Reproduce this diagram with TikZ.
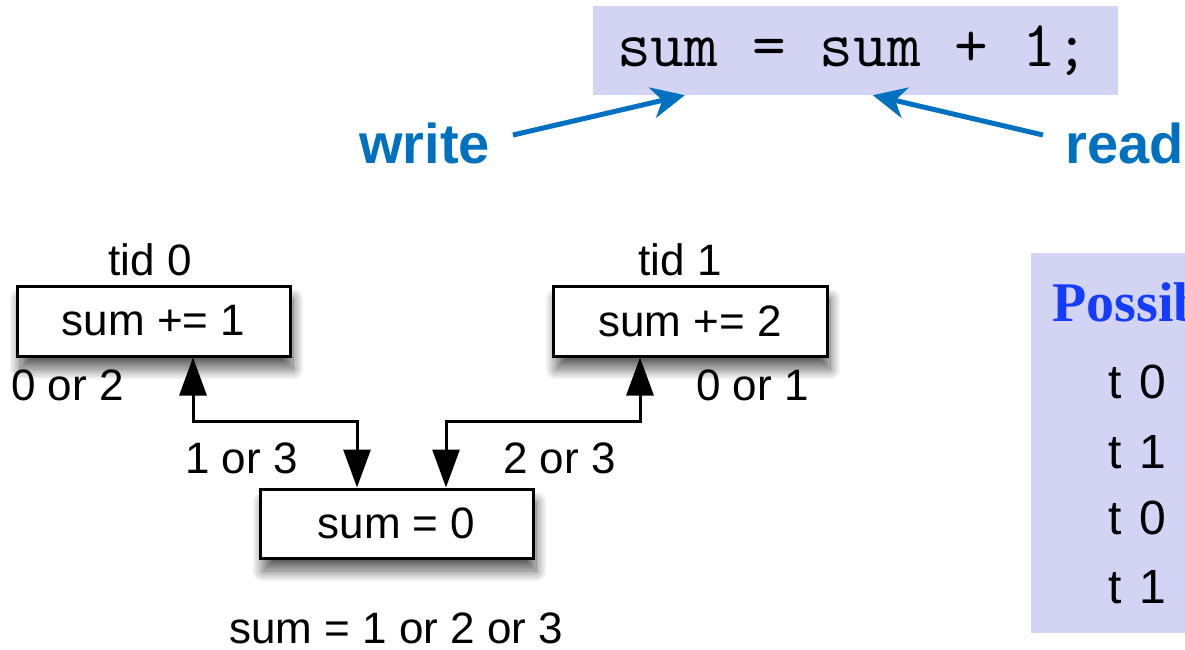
\documentclass[tikz,border=0pt]{standalone}
\usepackage{fontspec}
\setmainfont{Liberation Sans}
\newfontfamily\serifbold{Liberation Serif}[BoldFont=* Bold]
\usetikzlibrary{arrows.meta,shadows.blur}
\definecolor{lav}{RGB}{211,211,243}
\definecolor{rwblue}{RGB}{0,112,192}
\definecolor{possblue}{RGB}{20,60,255}
\newcommand{\mcell}[1]{\makebox[38pt][c]{#1}}
\tikzset{
  lavbox/.style={fill=lav, draw=none, inner sep=0pt},
  tbox/.style={draw=black, line width=3pt, fill=white, inner sep=0pt,
    font=\fontsize{44}{48}\selectfont,
    blur shadow={shadow xshift=3pt, shadow yshift=-13pt, shadow blur radius=11pt, shadow blur steps=25, shadow opacity=65}},
  lbl/.style={inner sep=0pt, font=\fontsize{44}{48}\selectfont},
  rwlbl/.style={inner sep=0pt, text=rwblue, font=\fontsize{56}{60}\selectfont\bfseries},
  rwarrow/.style={draw=rwblue, line width=5pt, -{Stealth[length=33pt, width=31pt, inset=10pt]}},
  link/.style={draw=black, line width=3pt, {Triangle[length=38pt, width=27pt]}-{Triangle[length=38pt, width=27pt]}},
  monolbl/.style={inner sep=0pt, font=\fontsize{48}{52}\selectfont},
}
\begin{document}
\begin{tikzpicture}[x=1pt, y=-1pt]
\useasboundingbox (0,0) rectangle (1185,650);
\clip (0,0) rectangle (1185,650);
% code line
\node[lavbox, minimum width=525pt, minimum height=89pt] (code) at (855.5,50.5) {};
\node[inner sep=0pt, anchor=base west, font=\ttfamily\fontsize{65.5}{70}\selectfont] (codetxt) at (617,67) {sum = sum + 1;};
\node[rwlbl, anchor=base west] (write) at (359,163) {write};
\node[rwlbl, anchor=base west] (read) at (1065,163) {read};
\coordinate (wstart) at (513,135);
\coordinate (rstart) at (1043,135);
\draw[rwarrow] (wstart) -- ([xshift=92pt]code.south west);
\draw[rwarrow] (rstart) -- ([xshift=280pt]code.south west);
% thread diagram
\node[tbox, minimum width=273pt, minimum height=70pt] (b1) at (153.5,321) {sum += 1};
\node[tbox, minimum width=274pt, minimum height=70pt] (b2) at (690,321) {sum += 2};
\node[tbox, minimum width=273pt, minimum height=69pt] (s0) at (396.5,523.5) {sum = 0};
\node[lbl, anchor=base] (tid0) at (150,275) {tid 0};
\node[lbl, anchor=base] (tid1) at (680,275) {tid 1};
\node[lbl, anchor=base west] (l02) at (11,400) {0 or 2};
\node[lbl, anchor=base west] (l01) at (696,400) {0 or 1};
\node[lbl, anchor=base west] (l13) at (185,473) {1 or 3};
\node[lbl, anchor=base west] (l23) at (503,473) {2 or 3};
\node[lbl, anchor=base] (res) at (396,643) {sum = 1 or 2 or 3};
\draw[link] ([xshift=-39.5pt]s0.north) -- ++(0,-66) -| ([xshift=39.5pt]b1.south);
\draw[link] ([xshift=49.5pt]s0.north) -- ++(0,-66) -| ([xshift=-50pt]b2.south);
% possible outcomes box
\node[lavbox, minimum width=200pt, minimum height=380pt, anchor=north west] (poss) at (1031,253) {};
\node[inner sep=0pt, anchor=base west, text=possblue, font=\serifbold\bfseries\fontsize{56}{60}\selectfont] (posst) at (1052,321) {Possible};
\node[monolbl, anchor=base west] (r1) at (1096,398) {\mcell{t}\mcell{0}};
\node[monolbl, anchor=base west] (r2) at (1096,468) {\mcell{t}\mcell{1}};
\node[monolbl, anchor=base west] (r3) at (1096,534) {\mcell{t}\mcell{0}};
\node[monolbl, anchor=base west] (r4) at (1096,603) {\mcell{t}\mcell{1}};
\end{tikzpicture}
\end{document}
